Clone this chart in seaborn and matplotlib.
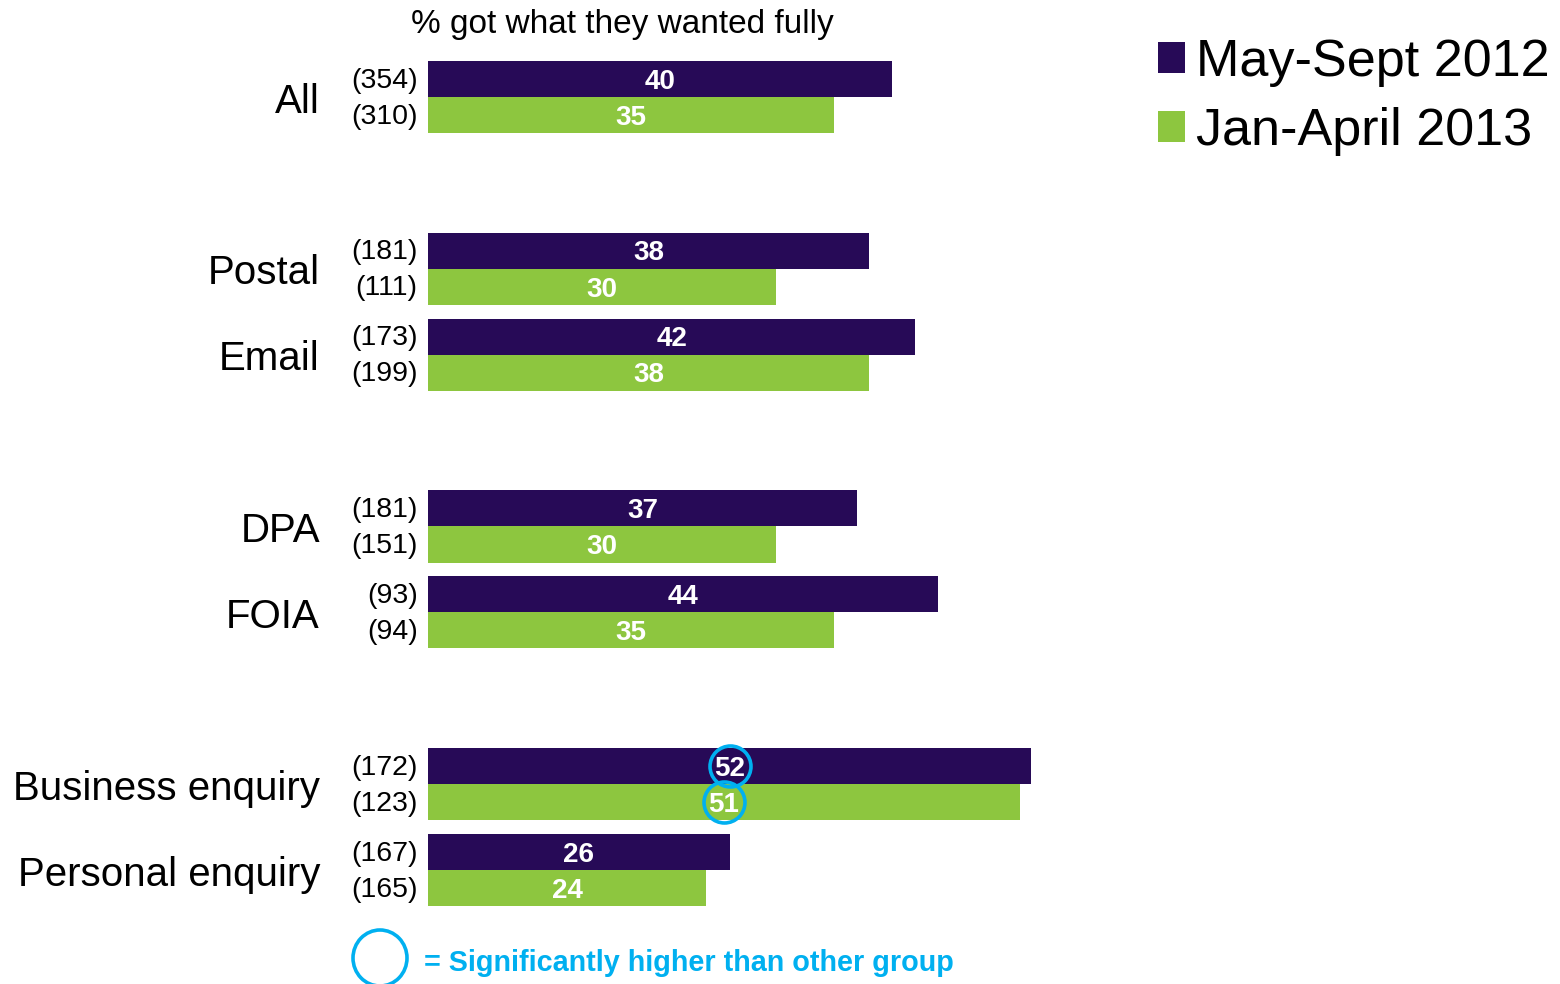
import matplotlib
matplotlib.use("Agg")
import matplotlib.pyplot as plt
from matplotlib.patches import Ellipse
import seaborn as sns
import pandas as pd

# Survey results: % who got what they wanted fully
categories = ["All", "Postal", "Email", "DPA", "FOIA", "Business enquiry", "Personal enquiry"]
periods = ["May-Sept 2012", "Jan-April 2013"]
values_2012 = [40, 38, 42, 37, 44, 52, 26]
values_2013 = [35, 30, 38, 30, 35, 51, 24]
base_2012 = ["(354)", "(181)", "(173)", "(181)", "(93)", "(172)", "(167)"]
base_2013 = ["(310)", "(111)", "(199)", "(151)", "(94)", "(123)", "(165)"]
significant = [("Business enquiry", "May-Sept 2012"), ("Business enquiry", "Jan-April 2013")]

# Blank slots separate the category groups
order = ["All", "_g1", "Postal", "Email", "_g2", "DPA", "FOIA", "_g3",
         "Business enquiry", "Personal enquiry"]

PURPLE = "#270a57"
GREEN = "#8dc63f"
CYAN = "#00b0f0"

df = pd.DataFrame({
    "category": categories * 2,
    "period": [periods[0]] * len(categories) + [periods[1]] * len(categories),
    "value": values_2012 + values_2013,
    "base": base_2012 + base_2013,
})

sns.set_style("white")
plt.rcParams["font.family"] = ["Liberation Sans", "DejaVu Sans"]
plt.rcParams["text.color"] = "black"

W, H = 1560, 984
fig = plt.figure(figsize=(W / 100, H / 100), dpi=100)
ax_left, ax_right = 428, 428 + 58 * 11.6
ax_top, ax_bottom = 54, 913
ax = fig.add_axes([ax_left / W, 1 - ax_bottom / H, (ax_right - ax_left) / W, (ax_bottom - ax_top) / H])

sns.barplot(data=df, y="category", x="value", hue="period", order=order,
            hue_order=periods, palette={periods[0]: PURPLE, periods[1]: GREEN},
            width=0.84, orient="h", ax=ax, legend=True, saturation=1, linewidth=0)

ax.set_xlim(0, 58)
ax.set_ylim(len(order) - 0.5, -0.5)
ax.set_xlabel("")
ax.set_ylabel("")
ax.set_xticks([])
ax.set_yticks([])
for s in ax.spines.values():
    s.set_visible(False)

# Value labels inside bars
for cont in ax.containers:
    labels = ax.bar_label(cont, label_type="center", color="white", fontsize=20,
                          fontweight="bold")
    for t in labels:
        t.set_position((0, -2))

# Base sizes to the left of each bar, category names further left
for cont, bases in zip(ax.containers, [base_2012, base_2013]):
    for patch, b in zip(cont.patches, bases):
        yc = patch.get_y() + patch.get_height() / 2
        ax.annotate(b, xy=(0, yc), xytext=(-7.5, -1.2), textcoords="offset points",
                    ha="right", va="center", fontsize=20.5, color="black")

for cat in categories:
    yc = order.index(cat)
    ax.annotate(cat, xy=(0, yc), xytext=(-77.8, -3.3), textcoords="offset points",
                ha="right", va="center", fontsize=29, color="black")

# Significance markers around value labels
for cont, period in zip(ax.containers, periods):
    for patch, cat in zip(cont.patches, categories):
        if (cat, period) in significant:
            yc = patch.get_y() + patch.get_height() / 2
            ax.plot(patch.get_width() / 2, yc, marker="o", markersize=29.5,
                    markerfacecolor="none", markeredgecolor=CYAN,
                    markeredgewidth=2.6, clip_on=False)

# Legend
handles, labels = ax.get_legend_handles_labels()
leg = ax.legend(handles, labels, loc="upper left", bbox_to_anchor=(1158 / W, 1 - 38 / H),
                bbox_transform=fig.transFigure, frameon=False, fontsize=37.5,
                handlelength=0.52, handleheight=0.52, handletextpad=0.2,
                labelspacing=0.38, borderaxespad=0, borderpad=0)
for t in leg.get_texts():
    t.set_color("black")

fig.text(622 / W, 1 - 24 / H, "% got what they wanted fully", ha="center",
         va="center", fontsize=24, color="black")

# Footnote key
fig.add_artist(Ellipse((380 / W, 1 - 958 / H), 54 / W, 56 / H, transform=fig.transFigure,
                       fill=False, edgecolor=CYAN, linewidth=2.6))
fig.text(424 / W, 1 - 963 / H, "= Significantly higher than other group", ha="left",
         va="center", fontsize=20.7, fontweight="bold", color=CYAN)

fig.savefig("out.png", dpi=100, facecolor="white")
